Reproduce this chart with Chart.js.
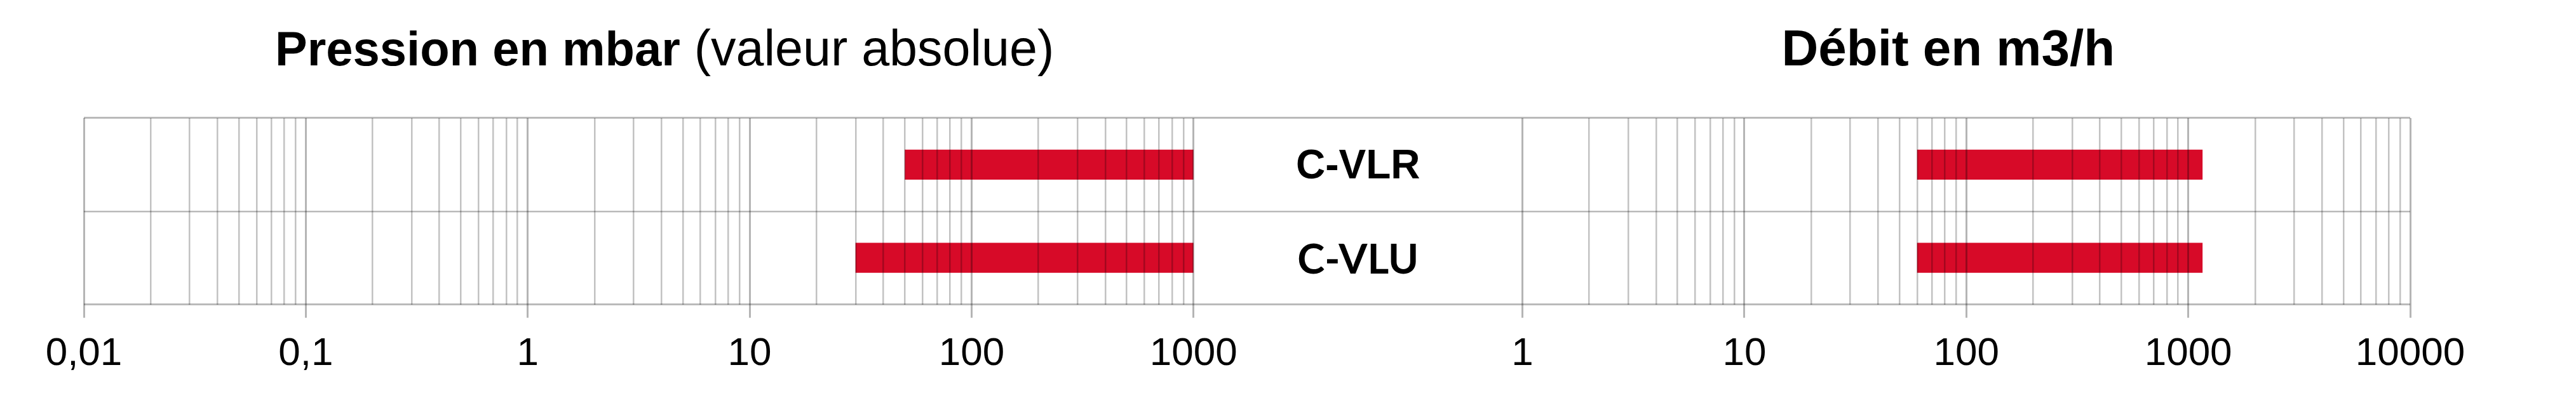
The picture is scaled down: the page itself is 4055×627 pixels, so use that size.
<!DOCTYPE html>
<html>
<head>
<meta charset="utf-8">
<script src="https://cdn.jsdelivr.net/npm/chart.js@4/dist/chart.umd.min.js"></script>
<style>
  html, body { margin: 0; padding: 0; background: #ffffff; overflow: hidden; }
  #wrap { width: 4055px; height: 627px; }
</style>
</head>
<body>
<div id="wrap"><canvas id="c" width="4055" height="627"></canvas></div>
<script>
// ---- data ----
const categories = ['C-VLR', 'C-VLU'];
const pressureStart = [50, 30];
const pressureEnd = [1000, 1000];
const flowStart = [60, 60];
const flowEnd = [1160, 1160];
const pressureDecades = [0.01, 0.1, 1, 10, 100, 1000];
const pressureTickLabels = ['0,01', '0,1', '1', '10', '100', '1000'];
const flowDecades = [1, 10, 100, 1000, 10000];
const flowTickLabels = ['1', '10', '100', '1000', '10000'];
const titlePressureBold = 'Pression en mbar';
const titlePressureNormal = '(valeur absolue)';
const titleFlow = 'Débit en m3/h';

// ---- helpers ----
function decadeTicks(decades) {
  const out = [];
  for (let i = 0; i < decades.length; i++) {
    const d = decades[i];
    out.push({ value: d, major: true });
    if (i < decades.length - 1) {
      for (let m = 2; m <= 9; m++) out.push({ value: Number((m * d).toPrecision(6)), major: false });
    }
  }
  return out;
}
function labelFor(decades, labels) {
  return (v) => {
    for (let i = 0; i < decades.length; i++) {
      if (Math.abs(v - decades[i]) < decades[i] * 1e-6) return labels[i];
    }
    return '';
  };
}
const minorGrid = 'rgba(0,0,0,0.24)';
const majorGrid = 'rgba(0,0,0,0.29)';
function logAxis(decades, labels, weight, stackWeight) {
  const lab = labelFor(decades, labels);
  return {
    type: 'logarithmic',
    position: 'bottom',
    stack: 'xs',
    stackWeight: stackWeight,
    weight: weight,
    min: decades[0],
    max: decades[decades.length - 1],
    afterBuildTicks: (scale) => { scale.ticks = decadeTicks(decades); },
    border: { display: false },
    grid: {
      z: 1,
      color: (ctx) => (ctx.tick && ctx.tick.major) ? majorGrid : minorGrid,
      lineWidth: (ctx) => (ctx.tick && ctx.tick.major) ? 3 : 2.5,
      drawTicks: true,
      tickLength: 21,
      tickColor: (ctx) => (ctx.tick && ctx.tick.major) ? majorGrid : 'rgba(0,0,0,0)',
      tickWidth: 3
    },
    ticks: {
      autoSkip: false,
      maxRotation: 0,
      minRotation: 0,
      padding: 20,
      color: '#000000',
      font: { family: '"Liberation Sans", Arial, sans-serif', size: 62 },
      callback: (v) => lab(v)
    }
  };
}

const barColor = '#d70a28';

const chart = new Chart(document.getElementById('c'), {
  type: 'bar',
  data: {
    labels: categories,
    datasets: [
      {
        label: 'Pression',
        data: categories.map((c, i) => [pressureStart[i], pressureEnd[i]]),
        xAxisID: 'xp',
        backgroundColor: barColor,
        borderWidth: 0,
        grouped: false,
        categoryPercentage: 1,
        barPercentage: 0.322
      },
      {
        label: 'Débit',
        data: categories.map((c, i) => [flowStart[i], flowEnd[i]]),
        xAxisID: 'xq',
        backgroundColor: barColor,
        borderWidth: 0,
        grouped: false,
        categoryPercentage: 1,
        barPercentage: 0.322
      }
    ]
  },
  options: {
    indexAxis: 'y',
    responsive: false,
    devicePixelRatio: 1,
    animation: false,
    layout: { padding: { left: 132, right: 261, top: 186, bottom: 12 } },
    plugins: { legend: { display: false }, tooltip: { enabled: false }, title: { display: false } },
    scales: {
      xp: logAxis(pressureDecades, pressureTickLabels, 1, 5),
      xgap: {
        type: 'linear',
        position: 'bottom',
        stack: 'xs',
        stackWeight: 1.482,
        weight: 2,
        min: 0,
        max: 1,
        border: { display: false },
        grid: { display: false, drawTicks: false },
        ticks: { display: false }
      },
      xq: logAxis(flowDecades, flowTickLabels, 3, 4),
      y: {
        type: 'category',
        position: 'left',
        offset: true,
        border: { display: false },
        grid: {
          z: 1,
          offset: true,
          drawTicks: false,
          color: 'rgba(0,0,0,0.27)',
          lineWidth: (ctx) => (ctx.index === 1 ? 2.5 : 3)
        },
        ticks: { display: false }
      }
    }
  },
  plugins: [{
    id: 'texts',
    afterDraw(chart) {
      const ctx = chart.ctx;
      const xp = chart.scales.xp, xq = chart.scales.xq, xg = chart.scales.xgap, y = chart.scales.y;
      ctx.save();
      ctx.fillStyle = '#000000';
      ctx.textBaseline = 'alphabetic';
      ctx.textAlign = 'left';
      // left title
      const boldFont = 'bold 76px "Liberation Sans", Arial, sans-serif';
      const normFont = '79px "Liberation Sans", Arial, sans-serif';
      let tx = xp.left + 301;
      const base = 103;
      ctx.font = boldFont;
      ctx.fillText(titlePressureBold, tx, base);
      tx += ctx.measureText(titlePressureBold).width;
      ctx.font = normFont;
      tx += ctx.measureText(' ').width;
      ctx.fillText(titlePressureNormal, tx, base);
      // right title
      ctx.font = 'bold 80px "Liberation Sans", Arial, sans-serif';
      ctx.fillText(titleFlow, xq.left + 408, base);
      // category labels in the gap
      const cx = (xg.left + xg.right) / 2;
      ctx.textAlign = 'center';
      ctx.textBaseline = 'middle';
      const fonts = ['bold 64px "Liberation Sans", Arial, sans-serif', 'bold 65px Lato, "Liberation Sans", sans-serif'];
      categories.forEach((c, i) => {
        ctx.font = fonts[i % fonts.length];
        ctx.fillText(c, cx, y.getPixelForValue(i) + 4);
      });
      ctx.restore();
    }
  }]
});
</script>
</body>
</html>
